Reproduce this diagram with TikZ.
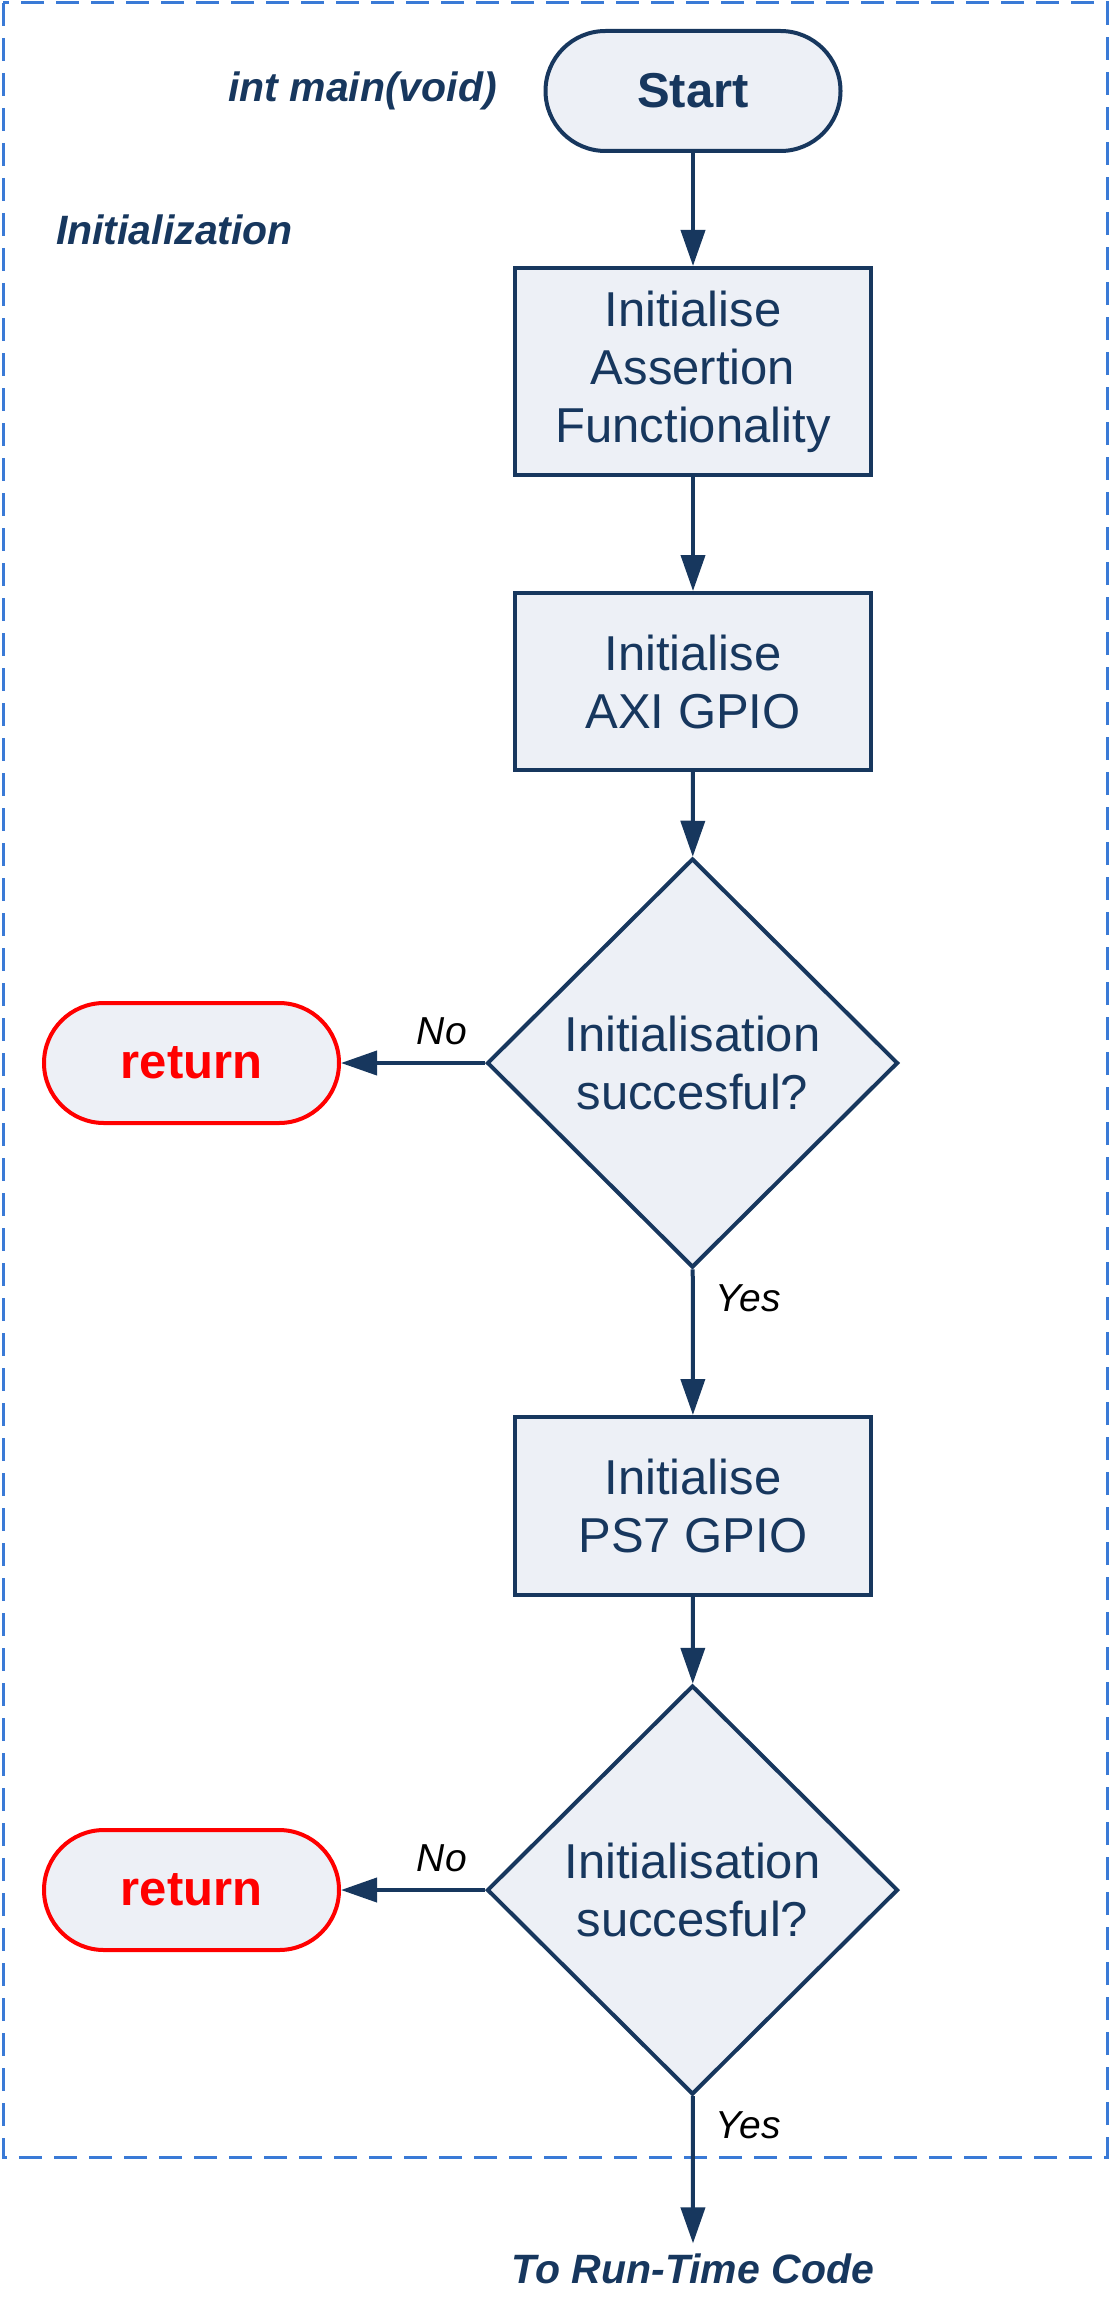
\documentclass[tikz,border=0pt]{standalone}
\usepackage{fontspec}
\setmainfont{Liberation Sans}
\usepackage{xcolor}
\usepackage{tikz}
\usetikzlibrary{arrows.meta,shapes.geometric}
\definecolor{navy}{RGB}{23,55,94}
\definecolor{boxfill}{RGB}{237,240,246}
\definecolor{frameblue}{RGB}{58,122,214}
\newcommand{\boxfont}{\fontsize{24.5}{29}\selectfont}
\newcommand{\tagfont}{\fontsize{19.5}{23}\selectfont}
\newcommand{\capfont}{\fontsize{20.5}{24}\selectfont}
\tikzset{
  procbox/.style={rectangle,draw=navy,fill=boxfill,line width=2pt,text=navy,
    font=\boxfont,align=center,minimum width=178pt,inner sep=0pt},
  decision/.style={diamond,aspect=1,draw=navy,fill=boxfill,line width=2pt,text=navy,
    font=\boxfont,align=center,minimum width=205.5pt,minimum height=204.5pt,inner sep=0pt},
  terminal/.style={rectangle,rounded corners=30pt,draw=navy,fill=boxfill,line width=2pt,
    text=navy,font=\boxfont\bfseries,minimum width=147.5pt,minimum height=60pt},
  retbox/.style={terminal,draw=red,text=red},
  flow/.style={draw=navy,line width=2pt,-{Triangle[length=18pt,width=12pt]}},
  tag/.style={font=\tagfont\itshape,inner sep=0pt},
  caption/.style={font=\capfont\bfseries\itshape,text=navy,inner sep=0pt},
  frame/.style={draw=frameblue,line width=1.5pt,dash pattern=on 11.5pt off 6pt}
}

\begin{document}
\begin{tikzpicture}[x=0.5pt,y=-0.5pt]
    \useasboundingbox (0,0) rectangle (1109,2301);

    % Dashed frame round the initialisation part
    \draw[frame] (3,3) rectangle (1107,2157);

    % Captions
    \node[caption,anchor=base] (mainfn) at (362.5,102) {int main(void)};
    \node[caption,anchor=base] (initlbl) at (174.5,245) {Initialization};

    % Flow chart nodes
    \node[terminal] (start) at (693,91) {Start};
    \node[procbox,minimum height=103.5pt] (assert) at (693,371.5) {Initialise\\Assertion\\Functionality};
    \node[procbox,minimum height=88.5pt] (axigpio) at (693,681.5) {Initialise\\AXI GPIO};
    \node[decision] (check1) at (692.5,1063) {Initialisation\\succesful?};
    \node[retbox] (ret1) at (191.5,1063) {return};
    \node[procbox,minimum height=89pt] (psgpio) at (693,1506) {Initialise\\PS7 GPIO};
    \node[decision] (check2) at (692.5,1890) {Initialisation\\succesful?};
    \node[retbox] (ret2) at (191.5,1890) {return};
    \node[caption,anchor=base,inner ysep=4.75pt] (runtime) at (693,2283) {To Run-Time Code};

    % Connectors
    \draw[flow] (start) -- (assert);
    \draw[flow] (assert) -- (axigpio);
    \draw[flow] (axigpio) -- (check1);
    \draw[flow] (check1) -- (ret1) node[tag,pos=0.3,above=8pt]{No};
    \draw[flow] (check1) -- (psgpio) node[tag,pos=0.2,right=10.5pt]{Yes};
    \draw[flow] (psgpio) -- (check2);
    \draw[flow] (check2) -- (ret2) node[tag,pos=0.3,above=8pt]{No};
    \draw[flow] (check2) -- (runtime.north) node[tag,pos=0.2,right=10.5pt]{Yes};
\end{tikzpicture}
\end{document}
